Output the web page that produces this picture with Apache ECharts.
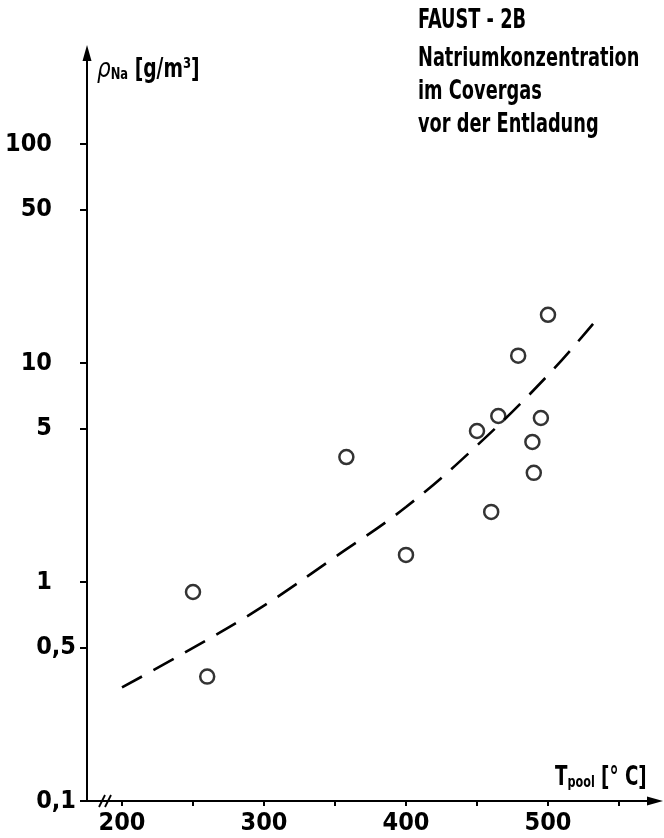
<!DOCTYPE html>
<html><head><meta charset="utf-8">
<script src="https://cdn.jsdelivr.net/npm/echarts@6/dist/echarts.min.js"></script>
<style>html,body{margin:0;padding:0;background:#fff}#c{width:664px;height:838px}</style>
</head><body><div id="c"></div>
<script>
// ---- data ----
const scatterT   = [250, 260, 358, 400, 450, 460, 465, 479, 489, 490, 495, 500];
const scatterRho = [0.90, 0.37, 3.72, 1.33, 4.89, 2.09, 5.73, 10.8, 4.36, 3.15, 5.61, 16.6];
const fitT   = [200, 250, 300, 350, 400, 450, 500, 535];
const fitRho = [0.33, 0.50, 0.78, 1.30, 2.2, 4.2, 8.8, 16];
const xTickValues  = [200, 250, 300, 350, 400, 450, 500, 550];
const xLabelValues = [200, 300, 400, 500];
const yTickValues  = [0.1, 0.5, 1, 5, 10, 50, 100];
const yTickLabels  = ['0,1', '0,5', '1', '5', '10', '50', '100'];
const titleLines = ['FAUST - 2B', 'Natriumkonzentration', 'im Covergas', 'vor der Entladung'];

const FONT = "'Liberation Sans Narrow','Arial Narrow','DejaVu Sans Condensed',sans-serif";
const chart = echarts.init(document.getElementById('c'), null, {renderer: 'canvas'});

const grid = {left: 87, top: 53, right: 9, bottom: 37};
const pxPerDeg = 1.42;                       // 200 -> px 122
const xAxisMin = 200 - (122 - grid.left) / pxPerDeg;
const xAxisMax = 200 + ((664 - grid.right) - 122) / pxPerDeg;
const pxPerDec = 219;                        // 100 -> px 144
const yAxisMax = Math.pow(10, 2 + (144 - grid.top) / pxPerDec);

function titleText(x, y, text) {
  return {type: 'text', x: x, y: y, scaleX: 0.76,
    style: {text: text, x: 0, y: 0, font: 'bold 26px ' + FONT, fill: '#000', verticalAlign: 'middle', align: 'left'}};
}

const option = {
  animation: false,
  backgroundColor: '#fff',
  grid: grid,
  xAxis: {
    type: 'value', min: xAxisMin, max: xAxisMax,
    axisLine: {show: true, onZero: false, lineStyle: {color: '#000', width: 2},
      symbol: ['none', 'triangle'], symbolSize: [9, 16]},
    axisTick: {show: true, customValues: xTickValues, length: 5, lineStyle: {color: '#000', width: 2}},
    axisLabel: {customValues: xLabelValues, margin: 10, fontFamily: FONT, fontWeight: 'bold',
      fontSize: 25, color: '#000'},
    splitLine: {show: false}
  },
  yAxis: {
    type: 'log', logBase: 10, min: 0.1, max: yAxisMax,
    axisLine: {show: true, onZero: false, lineStyle: {color: '#000', width: 2},
      symbol: ['none', 'triangle'], symbolSize: [9, 16]},
    axisTick: {show: true, customValues: yTickValues, length: 7, lineStyle: {color: '#000', width: 2}},
    axisLabel: {
      customValues: yTickValues, margin: 11, color: '#000',
      formatter: function (v) {
        let idx = -1;
        for (let i = 0; i < yTickValues.length; i++) if (Math.abs(yTickValues[i] - v) / v < 1e-6) idx = i;
        const s = idx >= 0 ? yTickLabels[idx] : String(v);
        return s.indexOf(',') >= 0 ? '{d|' + s + '}' : '{i|' + s + '}';
      },
      rich: {
        d: {fontFamily: FONT, fontWeight: 'bold', fontSize: 25, color: '#000'},
        i: {fontFamily: FONT, fontWeight: 'bold', fontSize: 25, color: '#000', padding: [0, 24, 0, 0]}
      }
    },
    splitLine: {show: false}
  },
  series: [
    {
      type: 'line', data: fitT.map((t, i) => [t, fitRho[i]]), smooth: 0.4, showSymbol: false,
      symbol: 'none', silent: true,
      lineStyle: {color: '#000', width: 2.6, type: [23, 13]}
    },
    {
      type: 'scatter', data: scatterT.map((t, i) => [t, scatterRho[i]]),
      symbol: 'circle', symbolSize: 14,
      itemStyle: {color: '#fff', borderColor: '#000', borderWidth: 2.5}
    }
  ],
  graphic: [
    // axis break marks on the T axis
    {type: 'line', shape: {x1: 99, y1: 807, x2: 105, y2: 795}, style: {stroke: '#000', lineWidth: 1.8}},
    {type: 'line', shape: {x1: 105, y1: 807, x2: 111, y2: 795}, style: {stroke: '#000', lineWidth: 1.8}},
    // y axis title
    {type: 'text', x: 97, y: 70, scaleX: 0.8, style: {
      text: '{r|ρ}{s|Na}{u| [g/m³]}', x: 0, y: 0, verticalAlign: 'middle', align: 'left',
      rich: {
        r: {fontFamily: "'DejaVu Sans','Noto Sans',sans-serif", fontStyle: 'italic', fontSize: 27, fill: '#000'},
        s: {fontFamily: FONT, fontWeight: 'bold', fontSize: 16, fill: '#000', padding: [10, 0, 0, 0]},
        u: {fontFamily: FONT, fontWeight: 'bold', fontSize: 26, fill: '#000'}
      }}},
    // x axis title
    {type: 'text', x: 555, y: 778, scaleX: 0.78, style: {
      text: '{t|T}{s|pool}{u| [° C]}', x: 0, y: 0, verticalAlign: 'middle', align: 'left',
      rich: {
        t: {fontFamily: FONT, fontWeight: 'bold', fontSize: 26, fill: '#000'},
        s: {fontFamily: FONT, fontWeight: 'bold', fontSize: 16, fill: '#000', padding: [10, 0, 0, 0]},
        u: {fontFamily: FONT, fontWeight: 'bold', fontSize: 26, fill: '#000'}
      }}},
    // title block
    titleText(418, 21, titleLines[0]),
    titleText(418, 59, titleLines[1]),
    titleText(418, 92, titleLines[2]),
    titleText(418, 125, titleLines[3])
  ]
};
chart.setOption(option);
</script>
</body></html>
